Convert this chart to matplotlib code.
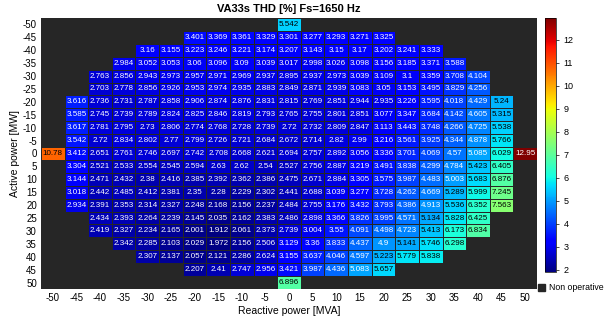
import numpy as np
import matplotlib
matplotlib.use("Agg")
import matplotlib.pyplot as plt
from matplotlib.patches import Patch

plt.rcParams['font.family'] = ['Liberation Sans', 'DejaVu Sans']

# axes categories
reactive = [-50, -45, -40, -35, -30, -25, -20, -15, -10, -5, 0, 5, 10, 15, 20, 25, 30, 35, 40, 45, 50]
active = [-50, -45, -40, -35, -30, -25, -20, -15, -10, -5, 0, 5, 10, 15, 20, 25, 30, 35, 40, 45, 50]

# first operative reactive power for each active power row (top to bottom)
first_q = [0, -20, -30, -35, -40, -40, -45, -45, -45, -45, -50,
           -45, -45, -45, -45, -40, -40, -35, -30, -20, 0]

# THD [%] per active power row
thd_m50 = [5.542]
thd_m45 = [3.401, 3.369, 3.361, 3.329, 3.301, 3.277, 3.293, 3.271, 3.325]
thd_m40 = [3.16, 3.155, 3.223, 3.246, 3.221, 3.174, 3.207, 3.143, 3.15, 3.17, 3.202, 3.241, 3.333]
thd_m35 = [2.984, 3.052, 3.053, 3.06, 3.096, 3.09, 3.039, 3.017, 2.998, 3.026, 3.098, 3.156, 3.185,
           3.371, 3.588]
thd_m30 = [2.763, 2.856, 2.943, 2.973, 2.957, 2.971, 2.969, 2.937, 2.895, 2.937, 2.973, 3.039, 3.109,
           3.1, 3.359, 3.708, 4.104]
thd_m25 = [2.703, 2.778, 2.856, 2.926, 2.953, 2.974, 2.935, 2.883, 2.849, 2.871, 2.939, 3.083, 3.05,
           3.153, 3.495, 3.829, 4.256]
thd_m20 = [3.616, 2.736, 2.731, 2.787, 2.858, 2.906, 2.874, 2.876, 2.831, 2.815, 2.769, 2.851, 2.944,
           2.935, 3.226, 3.595, 4.018, 4.429, 5.24]
thd_m15 = [3.585, 2.745, 2.739, 2.789, 2.824, 2.825, 2.846, 2.819, 2.793, 2.765, 2.755, 2.801, 2.851,
           3.077, 3.347, 3.684, 4.142, 4.605, 5.315]
thd_m10 = [3.617, 2.781, 2.795, 2.73, 2.806, 2.774, 2.768, 2.728, 2.739, 2.72, 2.732, 2.809, 2.847,
           3.113, 3.443, 3.748, 4.266, 4.725, 5.538]
thd_m05 = [3.542, 2.72, 2.834, 2.802, 2.77, 2.799, 2.726, 2.721, 2.684, 2.672, 2.714, 2.82, 2.99,
           3.216, 3.561, 3.925, 4.344, 4.878, 5.766]
thd_000 = [10.78, 3.412, 2.651, 2.761, 2.746, 2.697, 2.742, 2.708, 2.668, 2.621, 2.694, 2.757, 2.892,
           3.056, 3.336, 3.701, 4.069, 4.57, 5.085, 6.029, 12.95]
thd_p05 = [3.304, 2.521, 2.533, 2.554, 2.545, 2.594, 2.63, 2.62, 2.54, 2.527, 2.756, 2.887, 3.219,
           3.491, 3.838, 4.299, 4.784, 5.423, 6.405]
thd_p10 = [3.144, 2.471, 2.432, 2.38, 2.416, 2.385, 2.392, 2.362, 2.386, 2.475, 2.671, 2.884, 3.305,
           3.575, 3.987, 4.483, 5.003, 5.683, 6.876]
thd_p15 = [3.018, 2.442, 2.485, 2.412, 2.381, 2.35, 2.28, 2.229, 2.302, 2.441, 2.688, 3.039, 3.277,
           3.728, 4.262, 4.669, 5.289, 5.999, 7.245]
thd_p20 = [2.934, 2.391, 2.353, 2.314, 2.327, 2.248, 2.168, 2.156, 2.237, 2.484, 2.755, 3.176, 3.432,
           3.793, 4.386, 4.913, 5.536, 6.352, 7.563]
thd_p25 = [2.434, 2.393, 2.264, 2.239, 2.145, 2.035, 2.162, 2.383, 2.486, 2.898, 3.366, 3.826, 3.995,
           4.571, 5.134, 5.828, 6.425]
thd_p30 = [2.419, 2.327, 2.234, 2.165, 2.001, 1.912, 2.061, 2.373, 2.739, 3.004, 3.55, 4.091, 4.498,
           4.723, 5.413, 6.173, 6.834]
thd_p35 = [2.342, 2.285, 2.103, 2.029, 1.972, 2.156, 2.506, 3.129, 3.36, 3.833, 4.437, 4.9, 5.141,
           5.746, 6.298]
thd_p40 = [2.307, 2.137, 2.057, 2.121, 2.286, 2.624, 3.155, 3.637, 4.046, 4.597, 5.223, 5.779, 5.838]
thd_p45 = [2.207, 2.41, 2.747, 2.956, 3.421, 3.987, 4.436, 5.083, 5.657]
thd_p50 = [6.896]

rows = [thd_m50, thd_m45, thd_m40, thd_m35, thd_m30, thd_m25, thd_m20, thd_m15, thd_m10, thd_m05,
        thd_000, thd_p05, thd_p10, thd_p15, thd_p20, thd_p25, thd_p30, thd_p35, thd_p40, thd_p45,
        thd_p50]

grid = np.full((len(active), len(reactive)), np.nan)
for r, (q0, vals) in enumerate(zip(first_q, rows)):
    c0 = reactive.index(q0)
    grid[r, c0:c0 + len(vals)] = vals
data = np.ma.masked_invalid(grid)

bg = '#262626'
vmin, vmax = np.nanmin(grid), np.nanmax(grid)
cmap = plt.get_cmap('jet')
norm = plt.Normalize(vmin, vmax)

fig = plt.figure(figsize=(6.08, 3.21), dpi=100)
ax = fig.add_axes([0.0674, 0.0997, 0.8158, 0.8443])
ax.set_facecolor(bg)

mesh = ax.pcolormesh(np.arange(len(reactive) + 1) - 0.5, np.arange(len(active) + 1) - 0.5, data,
                     cmap=cmap, norm=norm, edgecolors=bg, linewidth=0.6)
ax.set_xlim(-0.5, len(reactive) - 0.5)
ax.set_ylim(len(active) - 0.5, -0.5)

for r in range(len(active)):
    for c in range(len(reactive)):
        v = grid[r, c]
        if np.isnan(v):
            continue
        rgb = cmap(norm(v))
        lum = 0.299 * rgb[0] + 0.587 * rgb[1] + 0.114 * rgb[2]
        ax.text(c, r, f'{v:.4g}', ha='center', va='center', fontsize=5.8,
                color='black' if lum > 0.5 else 'white')

ax.set_xticks(range(len(reactive)))
ax.set_xticklabels([str(v) for v in reactive], fontsize=7)
ax.set_yticks(range(len(active)))
ax.set_yticklabels([str(v) for v in active], fontsize=7)
ax.tick_params(length=0, pad=3)
for s in ax.spines.values():
    s.set_visible(False)

ax.set_xlabel('Reactive power [MVA]', fontsize=7.5, labelpad=2)
ax.set_ylabel('Active power [MW]', fontsize=7.5, labelpad=2)
ax.set_title('VA33s THD [%] Fs=1650 Hz', fontsize=8, fontweight='bold', pad=4)

cax = fig.add_axes([0.896, 0.153, 0.018, 0.791])
cb = fig.colorbar(mesh, cax=cax, ticks=range(2, 13))
cb.ax.tick_params(labelsize=6.5, length=2, width=0.5)
cb.outline.set_linewidth(0.5)

fig.legend(handles=[Patch(facecolor=bg, edgecolor=bg, label='Non operative')],
           loc='lower left', bbox_to_anchor=(0.874, 0.07), fontsize=6.3, frameon=False,
           handlelength=0.9, handleheight=0.9, handletextpad=0.4, borderpad=0.2)

fig.savefig('out.png', dpi=100)
